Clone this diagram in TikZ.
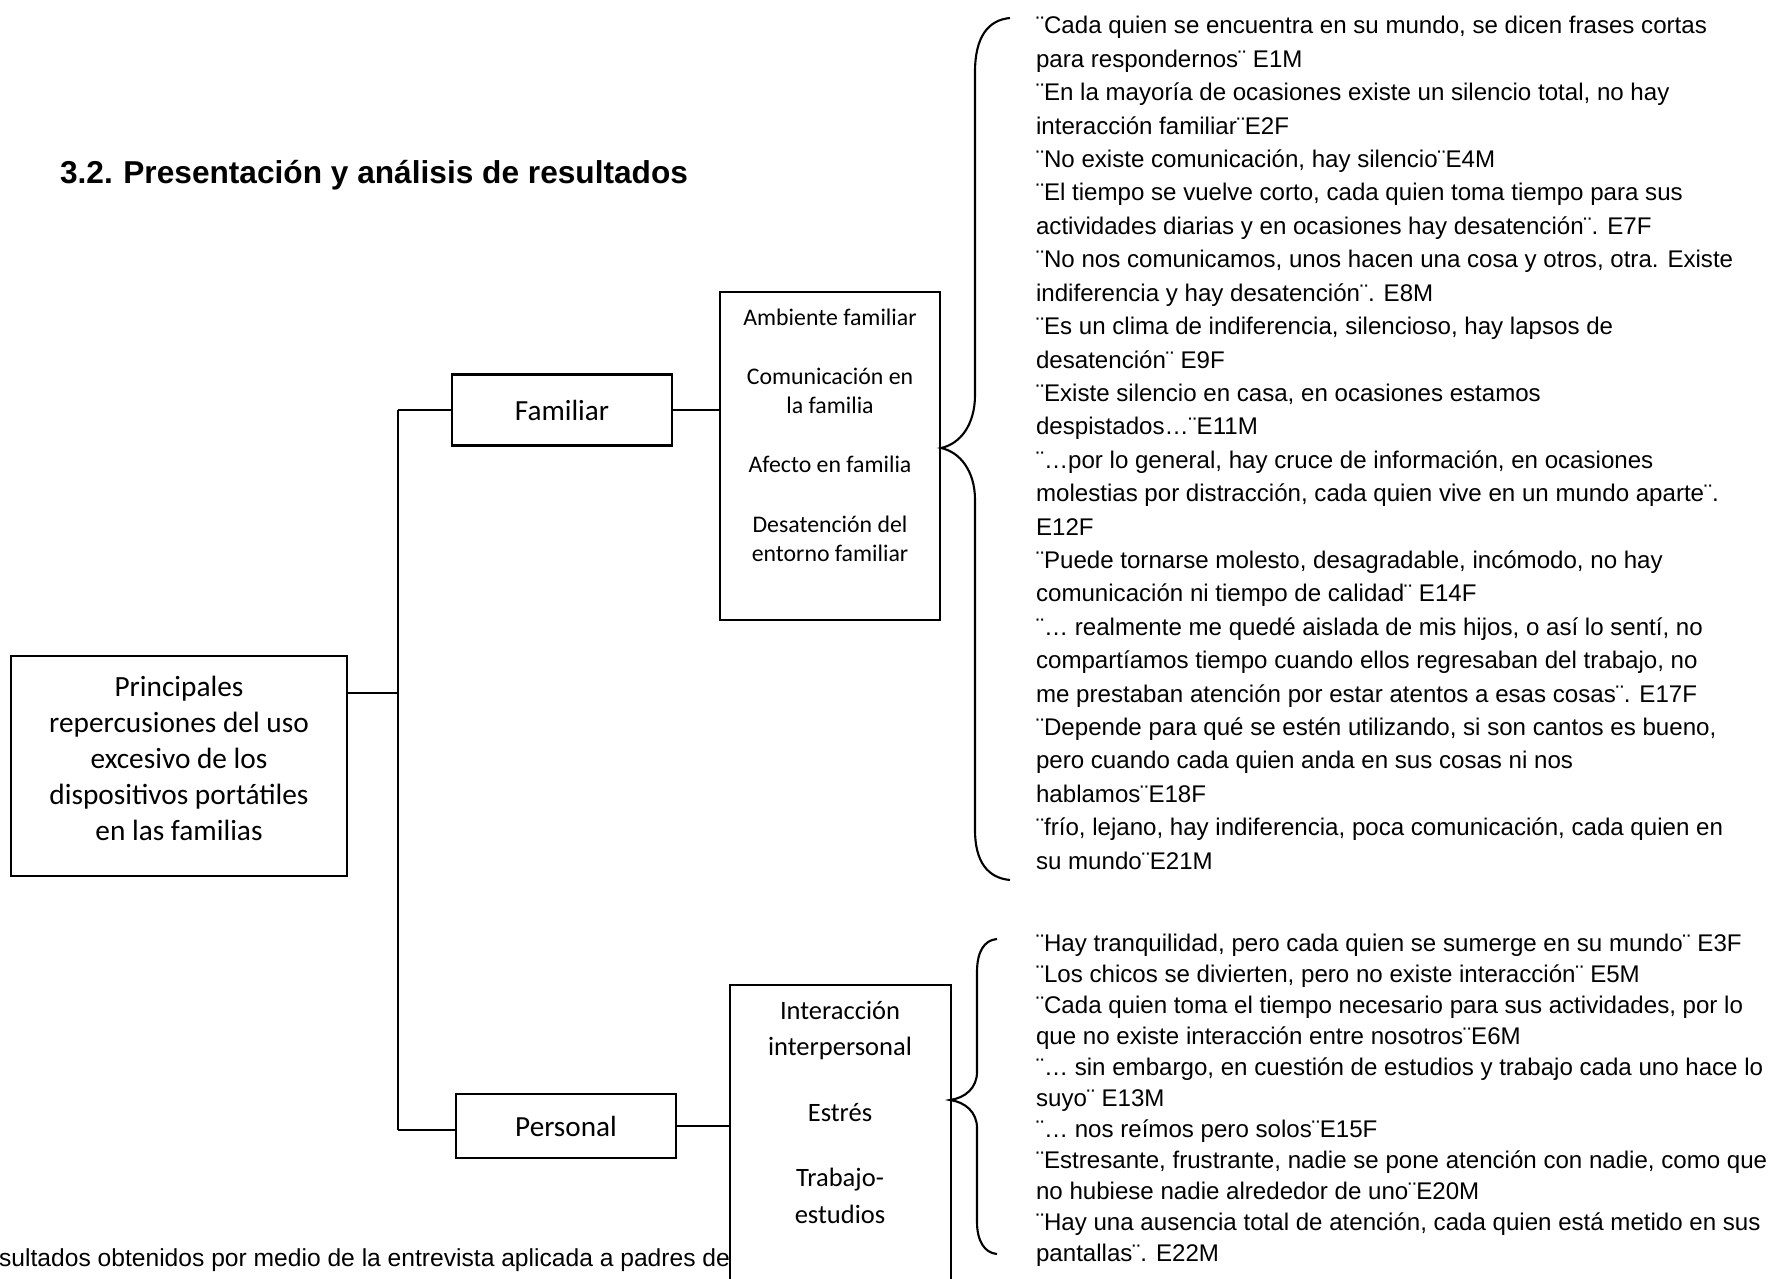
\documentclass[tikz,border=0pt]{standalone}
\usepackage{fontspec}
\setmainfont{Liberation Sans}
\newfontfamily\boxfont{Carlito}

\begin{document}
\begin{tikzpicture}[x=0.01cm, y=-0.01cm, line width=0.6pt,
    box/.style={draw, inner sep=0pt},
    quote/.style={anchor=base west, inner sep=0pt, font=\fontsize{6.85}{8}\selectfont}]
    \useasboundingbox (0,0) rectangle (1773,1279);
    % title and caption
    \node[anchor=base west, inner sep=0pt, font=\bfseries\fontsize{9}{11}\selectfont] (title) at (59,184) {3.2.\hspace{3pt}Presentación y análisis de resultados};
    \node[anchor=base east, inner sep=0pt, font=\fontsize{7}{8}\selectfont] (caption) at (731,1266) {sultados obtenidos por medio de la entrevista aplicada a padres de};
    % boxes
    \node[box, minimum width=3.36cm, minimum height=2.2cm] (root) at (179,766) {};
    \node[align=center, font=\boxfont\fontsize{8.34}{10.24}\selectfont] (roottxt) at (179,758) {Principales\\repercusiones del uso\\excesivo de los\\dispositivos portátiles\\en las familias};
    \node[box, minimum width=2.2cm, minimum height=0.71cm, font=\boxfont\fontsize{8.3}{10}\selectfont] (fam) at (562,410) {Familiar};
    \node[box, minimum width=2.2cm, minimum height=3.28cm] (fsub) at (830,456) {};
    \node[align=center, font=\boxfont\fontsize{6.77}{8.25}\selectfont] (ftxt) at (830,435) {Ambiente familiar\\[8.6pt]Comunicación en\\la familia\\[8.6pt]Afecto en familia\\[8.6pt]Desatención del\\entorno familiar};
    \node[box, minimum width=2.2cm, minimum height=0.64cm, font=\boxfont\fontsize{8.3}{10}\selectfont] (per) at (566,1126) {Personal};
    \node[box, minimum width=2.21cm, minimum height=3.2cm] (psub) at (840.5,1145) {};
    \node[align=center, font=\boxfont\fontsize{7.54}{10.5}\selectfont] (ptxt) at (840,1112) {Interacción\\interpersonal\\[8pt]Estrés\\[8pt]Trabajo-\\estudios};
    % connectors
    \coordinate (jtop) at (398,410);
    \coordinate (jroot) at (398,693);
    \coordinate (jbot) at (398,1130);
    \draw (jtop) -- (jbot);
    \draw (root.east |- jroot) -- (jroot);
    \draw (jtop) -- (fam.west);
    \draw (jbot) -- (jbot -| per.west);
    \draw (fam.east) -- (fam.east -| fsub.west);
    \draw (per.east) -- (per.east -| psub.west);
    % braces
    \draw (1010,18) .. controls (988,20) and (975,37) .. (975,72) -- (975,395) .. controls (975,425) and (960,444) .. (941,448) .. controls (960,452) and (975,471) .. (975,500) -- (975,830) .. controls (975,862) and (988,878) .. (1010,880);
    \draw (997,939) .. controls (984,940) and (977,952) .. (977,972) -- (977,1072) .. controls (977,1088) and (965,1098) .. (950,1100) .. controls (965,1102) and (977,1112) .. (977,1128) -- (977,1222) .. controls (977,1240) and (984,1253) .. (997,1254);
    % quotes
    \foreach \t [count=\i] in {{¨Cada quien se encuentra en su mundo, se dicen frases cortas},
        {para respondernos¨ E1M},
        {¨En la mayoría de ocasiones existe un silencio total, no hay},
        {interacción familiar¨E2F},
        {¨No existe comunicación, hay silencio¨E4M},
        {¨El tiempo se vuelve corto, cada quien toma tiempo para sus},
        {actividades diarias y en ocasiones hay desatención¨. E7F},
        {¨No nos comunicamos, unos hacen una cosa y otros, otra. Existe},
        {indiferencia y hay desatención¨. E8M},
        {¨Es un clima de indiferencia, silencioso, hay lapsos de},
        {desatención¨ E9F},
        {¨Existe silencio en casa, en ocasiones estamos},
        {despistados…¨E11M},
        {¨…por lo general, hay cruce de información, en ocasiones},
        {molestias por distracción, cada quien vive en un mundo aparte¨.},
        {E12F},
        {¨Puede tornarse molesto, desagradable, incómodo, no hay},
        {comunicación ni tiempo de calidad¨ E14F},
        {¨… realmente me quedé aislada de mis hijos, o así lo sentí, no},
        {compartíamos tiempo cuando ellos regresaban del trabajo, no},
        {me prestaban atención por estar atentos a esas cosas¨. E17F},
        {¨Depende para qué se estén utilizando, si son cantos es bueno,},
        {pero cuando cada quien anda en sus cosas ni nos},
        {hablamos¨E18F},
        {¨frío, lejano, hay indiferencia, poca comunicación, cada quien en},
        {su mundo¨E21M}}
        \node[quote] (fq\i) at (1035,{34+33.4*(\i-1)}) {\t};
    \foreach \t [count=\i] in {{¨Hay tranquilidad, pero cada quien se sumerge en su mundo¨ E3F},
        {¨Los chicos se divierten, pero no existe interacción¨ E5M},
        {¨Cada quien toma el tiempo necesario para sus actividades, por lo},
        {que no existe interacción entre nosotros¨E6M},
        {¨… sin embargo, en cuestión de estudios y trabajo cada uno hace lo},
        {suyo¨ E13M},
        {¨… nos reímos pero solos¨E15F},
        {¨Estresante, frustrante, nadie se pone atención con nadie, como que},
        {no hubiese nadie alrededor de uno¨E20M},
        {¨Hay una ausencia total de atención, cada quien está metido en sus},
        {pantallas¨. E22M}}
        \node[quote] (pq\i) at (1035,{951+31*(\i-1)}) {\t};
\end{tikzpicture}
\end{document}
